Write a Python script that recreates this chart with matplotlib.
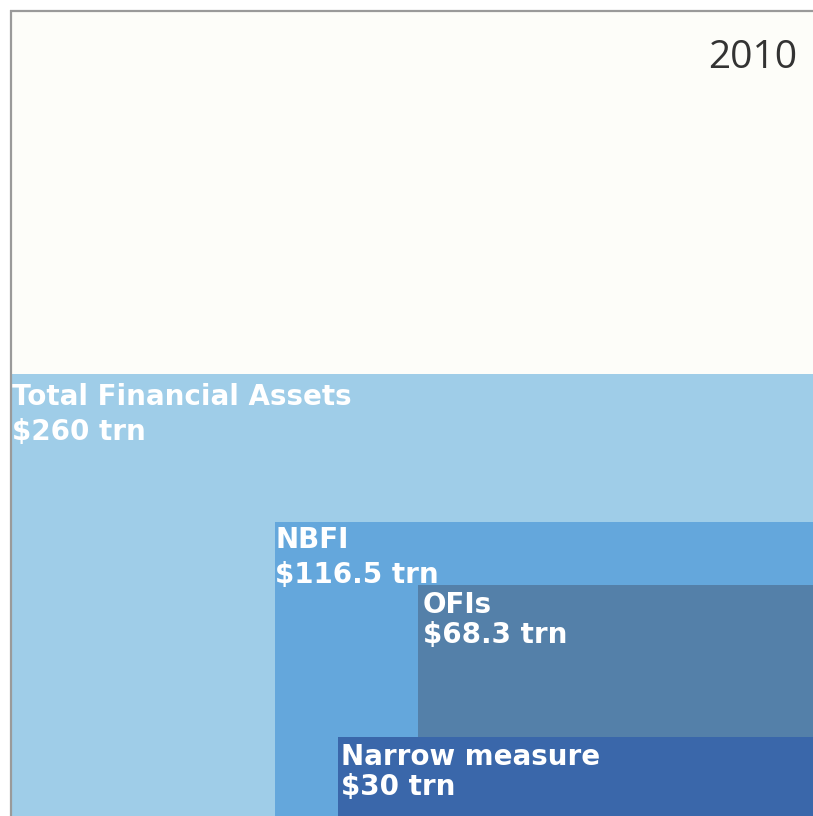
import matplotlib
matplotlib.use("Agg")
import matplotlib.pyplot as plt
from matplotlib.patches import Rectangle

# Data
categories = ["Total Financial Assets", "NBFI", "OFIs", "Narrow measure"]
values_trn = [260, 116.5, 68.3, 30]
value_labels = ["$260 trn", "$116.5 trn", "$68.3 trn", "$30 trn"]
year_label = "2010"

# Layout (pixel-like coordinates, origin top-left)
rect_left = [11, 275, 418, 338]
rect_top = [374, 522, 585, 737]
fills = ["#9fcde8", "#64a7dc", "#5480a9", "#3a67aa"]
label_pad_x = [1, 0, 5, 3]
line1_off = [31, 26, 28, 28]
line2_off = [66, 61, 58, 58]

W, H = 813, 816
fig = plt.figure(figsize=(W / 100, H / 100), dpi=100)
ax = fig.add_axes([0, 0, 1, 1])
ax.set_xlim(0, W)
ax.set_ylim(H, 0)
ax.axis("off")
fig.patch.set_facecolor("white")

# background panel
ax.add_patch(Rectangle((11, 11), W - 11, H - 11, facecolor="#fdfdf9", edgecolor="none", zorder=0))

for i, (cat, lab) in enumerate(zip(categories, value_labels)):
    x0 = rect_left[i]
    y0 = rect_top[i]
    ax.add_patch(Rectangle((x0, y0), W - x0, H - y0, facecolor=fills[i], edgecolor="none", zorder=1 + i))
    tx = x0 + label_pad_x[i]
    ax.text(tx, y0 + line1_off[i], cat, color="white", fontsize=20, fontweight="bold", family="DejaVu Sans",
            va="baseline", ha="left", zorder=10)
    ax.text(tx, y0 + line2_off[i], lab, color="white", fontsize=20, fontweight="bold", family="DejaVu Sans",
            va="baseline", ha="left", zorder=10)

# borders
ax.plot([10.5, 10.5], [10, H], color="#9a9a9a", lw=1.6, zorder=20, solid_capstyle="butt")
ax.plot([10, W], [10.5, 10.5], color="#9a9a9a", lw=1.6, zorder=20, solid_capstyle="butt")

ax.text(797, 68, year_label, color="#333333", fontsize=28, family="Open Sans",
        va="baseline", ha="right", zorder=10)

fig.savefig("out.png", dpi=100, facecolor="white")
